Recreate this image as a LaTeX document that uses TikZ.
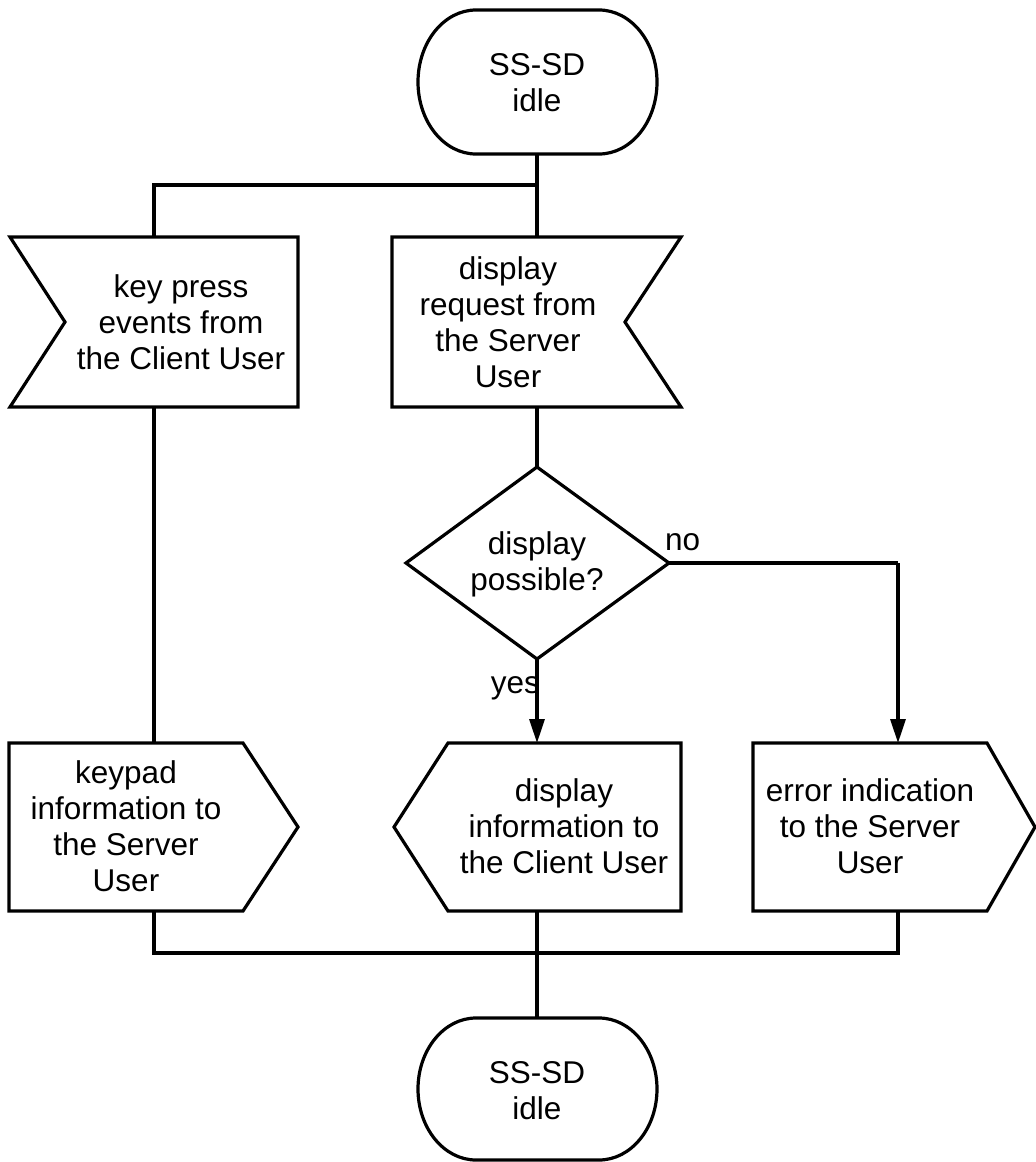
\documentclass[tikz,border=0pt]{standalone}
\usepackage{fontspec}
\setmainfont{Liberation Sans}
\usetikzlibrary{arrows.meta}
\begin{document}
\begin{tikzpicture}[x=1pt,y=-1pt,
  shp/.style={line width=3.2pt, fill=white, line join=miter},
  conn/.style={line width=3.2pt},
  arr/.style={conn, -{Triangle[length=24pt,width=15pt]}},
  txt/.style={font=\fontsize{31.5}{36}\selectfont, align=center, inner sep=0pt},
  lbl/.style={font=\fontsize{31.5}{36}\selectfont, inner sep=0pt}]
\fill[white] (0,0) rectangle (1036,1162);
\useasboundingbox (0,0) rectangle (1036,1162);

% connection points
\coordinate (tsB) at (537,154);
\coordinate (j1) at (537,185);
\coordinate (j2) at (154,185);
\coordinate (kpT) at (154,237);
\coordinate (kpB) at (154,407);
\coordinate (drT) at (537,237);
\coordinate (drB) at (537,407);
\coordinate (dT) at (537,467);
\coordinate (dB) at (537,659);
\coordinate (dR) at (669,563);
\coordinate (j3) at (898,563);
\coordinate (kpadT) at (154,743);
\coordinate (kpadB) at (154,911);
\coordinate (diT) at (537,743);
\coordinate (diB) at (537,911);
\coordinate (errT) at (898,743);
\coordinate (errB) at (898,911);
\coordinate (j4) at (154,953);
\coordinate (j5) at (898,953);
\coordinate (bsT) at (537,1018);

% connectors
\draw[conn] (tsB) -- (drT);
\draw[conn] (j1) -- (j2) -- (kpT);
\draw[conn] (kpB) -- (kpadT);
\draw[conn] (drB) -- (dT);
\draw[arr] (dB) -- (diT);
\draw[conn] (dR) -- (j3);
\draw[arr] (j3) -- (errT);
\draw[conn] (kpadB) -- (j4) -- (j5) -- (errB);
\draw[conn] (diB) -- (bsT);

% shapes
\draw[shp] (476,10) -- (599,10)
  arc[start angle=90, end angle=-90, x radius=58pt, y radius=72pt]
  -- (476,154)
  arc[start angle=-90, end angle=-270, x radius=58pt, y radius=72pt] -- cycle;
\draw[shp] (10,237) -- (298,237) -- (298,407) -- (10,407) -- (65,322) -- cycle;
\draw[shp] (392,237) -- (681,237) -- (625,322) -- (681,407) -- (392,407) -- cycle;
\draw[shp] (537,467) -- (669,563) -- (537,659) -- (406,563) -- cycle;
\draw[shp] (9,743) -- (243,743) -- (298,827) -- (243,911) -- (9,911) -- cycle;
\draw[shp] (394,827) -- (448,743) -- (681,743) -- (681,911) -- (448,911) -- cycle;
\draw[shp] (753,743) -- (987,743) -- (1035,827) -- (987,911) -- (753,911) -- cycle;
\draw[shp] (476,1018) -- (599,1018)
  arc[start angle=90, end angle=-90, x radius=58pt, y radius=71pt]
  -- (476,1160)
  arc[start angle=-90, end angle=-270, x radius=58pt, y radius=71pt] -- cycle;

% texts
\node[txt] (ts) at (537,86.2) {\strut SS-SD\\idle\strut};
\node[txt] (kp) at (181,326.3) {\strut key press\\events from\\the Client User\strut};
\node[txt] (dr) at (508,326.3) {\strut display\\request from\\the Server\\User\strut};
\node[txt] (dp) at (537,565.3) {\strut display\\possible?\strut};
\node[txt] (kpad) at (126,829.8) {\strut keypad\\information to\\the Server\\User\strut};
\node[txt] (di) at (564,829.8) {\strut display\\information to\\the Client User\strut};
\node[txt] (err) at (870,829.8) {\strut error indication\\to the Server\\User\strut};
\node[txt] (bs) at (537,1093.8) {\strut SS-SD\\idle\strut};
\node[lbl, anchor=base west] (no) at (665,550) {no};
\node[lbl, anchor=base east] (yes) at (540,693) {yes};
\end{tikzpicture}
\end{document}
